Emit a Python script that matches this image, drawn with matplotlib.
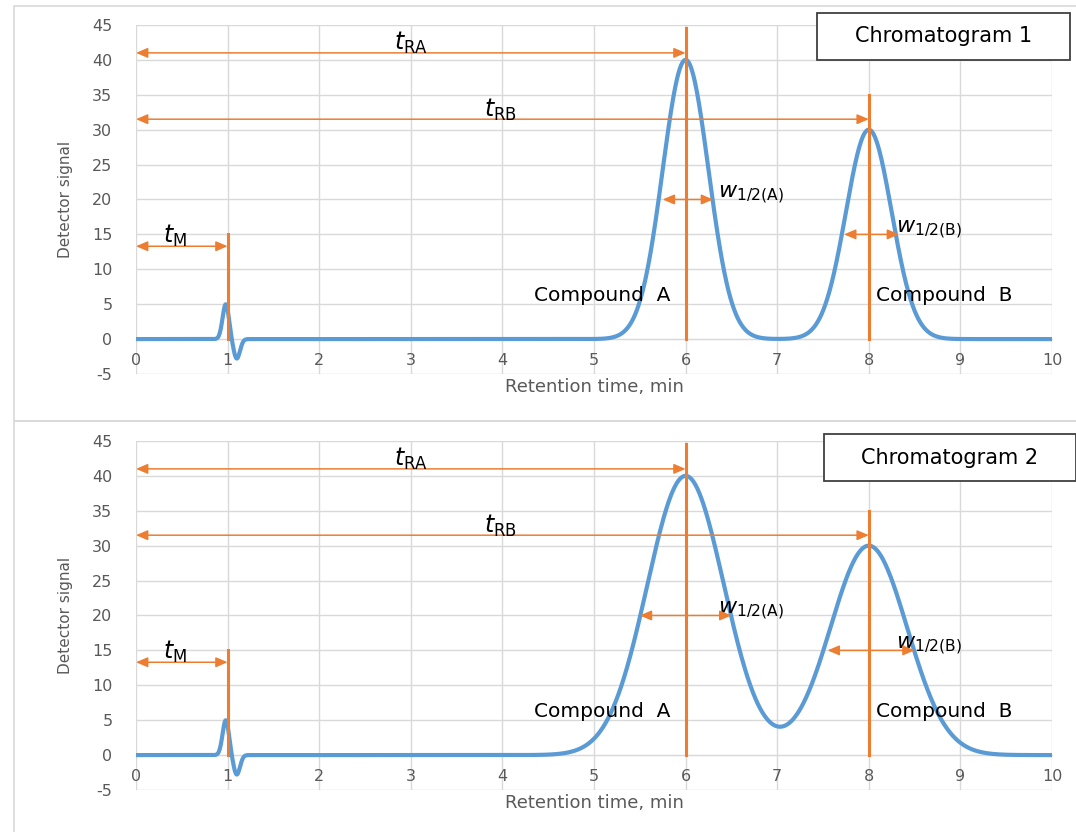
import numpy as np
import matplotlib.pyplot as plt
from matplotlib.patches import Rectangle

# peak data (retention time, height, width)
dead_times = [0.98, 1.10]
dead_heights = [5.0, -2.8]
dead_sigmas = [0.035, 0.035]

ret_times = [6.0, 8.0]
heights = [40.0, 30.0]
sigmas_1 = [0.25, 0.25]
sigmas_2 = [0.42, 0.42]

# half-width arrows (left, right) at half height
half_w_1 = [(5.75, 6.30), (7.73, 8.33)]
half_w_2 = [(5.50, 6.50), (7.55, 8.50)]

titles = ['Chromatogram 1', 'Chromatogram 2']

BLUE = '#5B9BD5'
ORANGE = '#ED7D31'
GRAY = '#595959'

plt.rcParams['font.family'] = 'DejaVu Sans'
plt.rcParams['mathtext.fontset'] = 'dejavusans'
plt.rcParams['axes.unicode_minus'] = False

fig = plt.figure(figsize=(10.76, 8.32), dpi=100)

# outer chart frames
fig.patches.append(Rectangle((14 / 1076, 1 - 421 / 832), 1.1, 415 / 832,
                             transform=fig.transFigure, fill=False,
                             edgecolor='#d9d9d9', lw=1.2))
fig.patches.append(Rectangle((14 / 1076, -0.1), 1.1, 1 - 421 / 832 + 0.1,
                             transform=fig.transFigure, fill=False,
                             edgecolor='#d9d9d9', lw=1.2))


def signal(x, centers, amps, sigs):
    y = np.zeros_like(x)
    for c, a, s in zip(centers, amps, sigs):
        y += a * np.exp(-(x - c) ** 2 / (2 * s ** 2))
    return y


def arrow(ax, x0, x1, y, style='<|-|>'):
    ax.annotate('', xy=(x1, y), xytext=(x0, y),
                arrowprops=dict(arrowstyle=style + ',head_length=0.7,head_width=0.3',
                                color=ORANGE, lw=1.1, shrinkA=0, shrinkB=0))


x = np.linspace(0, 10, 2001)
panels = [(0.5505, sigmas_1, half_w_1), (0.0505, sigmas_2, half_w_2)]

for i, (bottom, sigs, hw) in enumerate(panels):
    ax = fig.add_axes([0.1264, bottom, 0.8513, 0.4195])
    y = signal(x, dead_times + ret_times, dead_heights + heights,
               dead_sigmas + sigs)
    ax.plot(x, y, color=BLUE, lw=3, zorder=3)

    ax.set_xlim(0, 10)
    ax.set_ylim(-5, 45)
    ax.set_xticks(range(0, 11))
    ax.set_yticks(range(-5, 46, 5))
    ax.grid(True, color='#d9d9d9', lw=1)
    ax.set_axisbelow(True)
    for s in ax.spines.values():
        s.set_visible(False)
    ax.spines['bottom'].set_visible(True)
    ax.spines['bottom'].set_position(('data', 0))
    ax.spines['bottom'].set_color('#d9d9d9')
    ax.tick_params(axis='x', length=0, pad=10, labelsize=11.5, labelcolor=GRAY)
    ax.tick_params(axis='y', length=0, pad=17, labelsize=11.5, labelcolor=GRAY)

    ax.set_xlabel('Retention time, min', fontsize=13, color=GRAY)
    ax.xaxis.set_label_coords(0.5, -0.012)
    ax.set_ylabel('Detector signal', fontsize=11, color=GRAY)
    ax.yaxis.set_label_coords(-0.069, 0.5)

    # vertical markers
    ax.plot([1, 1], [0, 15], color=ORANGE, lw=2.2, zorder=4)
    ax.plot([6, 6], [0, 44.5], color=ORANGE, lw=2.2, zorder=4)
    ax.plot([8, 8], [0, 35], color=ORANGE, lw=2.2, zorder=4)

    # retention time arrows
    arrow(ax, 0, 6, 41)
    arrow(ax, 0, 8, 31.5)
    arrow(ax, 0, 1, 13.3)
    ax.text(2.82, 40.6, r'$t_{\mathrm{RA}}$', fontsize=17, va='bottom')
    ax.text(3.8, 30.9, r'$t_{\mathrm{RB}}$', fontsize=17, va='bottom')
    ax.text(0.3, 12.9, r'$t_{\mathrm{M}}$', fontsize=17, va='bottom')

    # half widths
    ax.text(6.35, 19.0, r'$w_{1/2\mathrm{(A)}}$', fontsize=16, va='bottom')
    ax.text(8.3, 14.0, r'$w_{1/2\mathrm{(B)}}$', fontsize=16, va='bottom')
    arrow(ax, hw[0][0], hw[0][1], 20)
    arrow(ax, hw[1][0], hw[1][1], 15)

    ax.text(5.83, 6.2, 'Compound  A', fontsize=14.5, ha='right', va='center')
    ax.text(8.08, 6.2, 'Compound  B', fontsize=14.5, ha='left', va='center')

    # title box in figure pixels
    bx0, bx1 = [(817, 1070), (824, 1076)][i]
    by0, by1 = [(13, 60), (434, 481)][i]
    fig.patches.append(Rectangle((bx0 / 1076, 1 - by1 / 832),
                                 (bx1 - bx0) / 1076, (by1 - by0) / 832,
                                 transform=fig.transFigure, fc='white',
                                 ec='#404040', lw=1.3, zorder=5))
    fig.text((bx0 + bx1) / 2 / 1076, 1 - (by0 + by1) / 2 / 832, titles[i],
             fontsize=15, ha='center', va='center', zorder=6)

plt.savefig('out.png', dpi=100)
